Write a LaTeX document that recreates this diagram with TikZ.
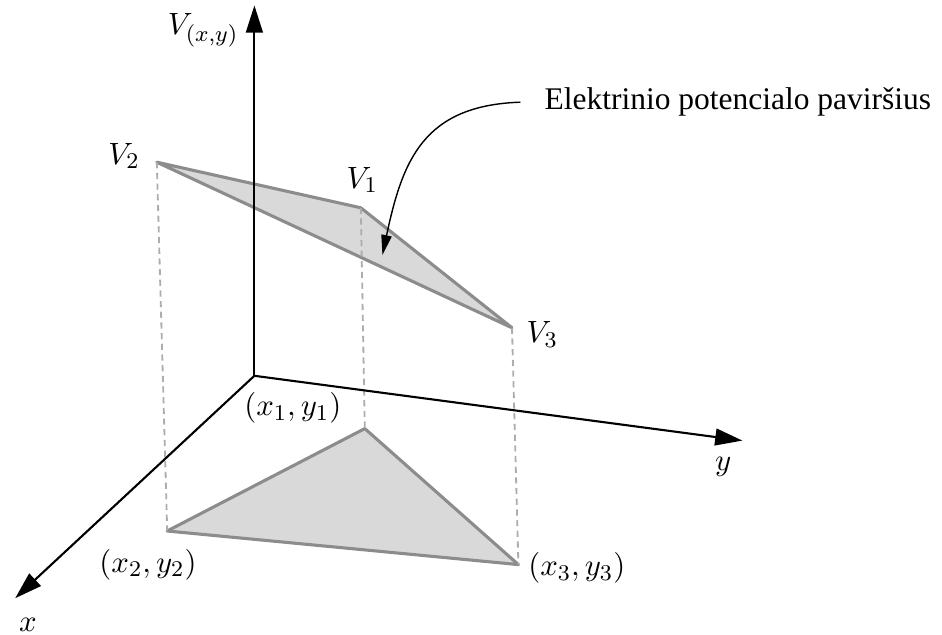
\documentclass[tikz,border=0pt]{standalone}
\usepackage{fontspec}
\newfontfamily\captfont{Liberation Serif}
\usetikzlibrary{arrows.meta}

\begin{document}
\begin{tikzpicture}[line cap=round, line join=round,
    axis/.style={line width=0.75pt, -{Triangle[length=3.4mm, width=2.1mm]}},
    face/.style={draw=black!45, fill=black!15, line width=1.1pt},
    proj/.style={draw=black!32, dash pattern=on 2.2pt off 1.6pt, line width=0.65pt, line cap=butt},
    lab/.style={inner sep=1pt, font=\fontsize{11}{13}\selectfont},
    callout/.style={line width=0.5pt, -{Triangle[length=2.5mm, width=1.3mm]}}]
  \useasboundingbox (0,0) rectangle (11.775,7.9375);
  % axes
  \coordinate (o) at (3.18,3.24);
  \coordinate (vtop) at (3.18,7.87);
  \coordinate (yend) at (9.28,2.43);
  \coordinate (xend) at (0.19,0.46);
  % potential surface and its base
  \coordinate (v1) at (4.51,5.34);
  \coordinate (v2) at (1.96,5.91);
  \coordinate (v3) at (6.40,3.84);
  \coordinate (p1) at (4.56,2.58);
  \coordinate (p2) at (2.09,1.30);
  \coordinate (p3) at (6.48,0.88);
  \draw[face] (p1) -- (p2) -- (p3) -- cycle;
  \draw[face] (v1) -- (v2) -- (v3) -- cycle;
  \draw[proj] (v1) -- (p1);
  \draw[proj] (v2) -- (p2);
  \draw[proj] (v3) -- (p3);
  \draw[axis] (o) -- (vtop);
  \draw[axis] (o) -- (yend);
  \draw[axis] (o) -- (xend);
  % labels
  \node[lab] (lv) at (2.54,7.56) {$V_{(x,y)}$};
  \node[lab] (lv1) at (4.53,5.69) {$V_1$};
  \node[lab] (lv2) at (1.55,5.99) {$V_2$};
  \node[lab] (lv3) at (6.78,3.76) {$V_3$};
  \node[lab] (lp1) at (3.66,2.84) {$(x_1,y_1)$};
  \node[lab] (lp2) at (1.85,0.88) {$(x_2,y_2)$};
  \node[lab] (lp3) at (7.21,0.84) {$(x_3,y_3)$};
  \node[lab] (ly) at (9.04,2.10) {$y$};
  \node[lab] (lx) at (0.35,0.13) {$x$};
  \node[anchor=west, inner xsep=0.3cm, inner ysep=1pt,
    font=\captfont\fontsize{11.2}{13}\selectfont] (txt) at (6.50,6.66)
    {Elektrinio potencialo paviršius};
  \coordinate (tip) at (4.78,4.75);
  \draw[callout] (txt.west) to[out=182, in=78, looseness=1.2] (tip);
\end{tikzpicture}
\end{document}
